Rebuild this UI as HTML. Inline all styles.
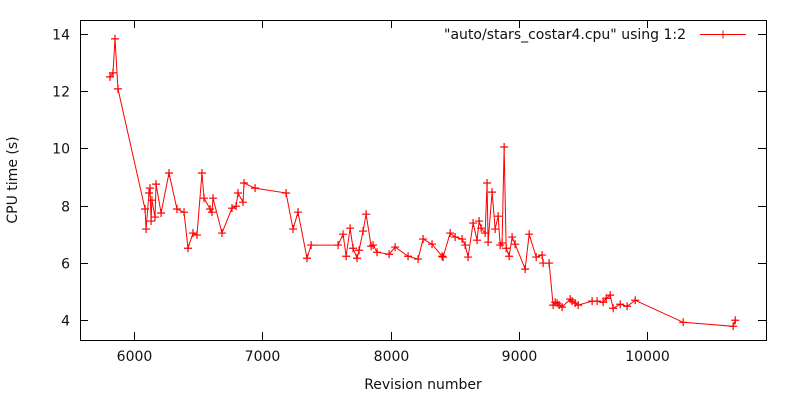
<!DOCTYPE html>
<html><head><meta charset="utf-8"><style>
body{margin:0;background:#fff}
svg{display:block;font-family:"DejaVu Sans","Liberation Sans",sans-serif;font-size:14px;fill:#111}
</style></head><body>
<svg id="chart" width="800" height="400">
<rect width="800" height="400" fill="#fff"/>
<g id="axes"></g>
<g id="series"></g>
<g>
<text x="686" y="39" text-anchor="end">"auto/stars_costar4.cpu" using 1:2</text>
<line x1="700" y1="34.5" x2="746" y2="34.5" stroke="#f00" stroke-width="1"/>
<path d="M719,34.5h8M723,30.5v8" stroke="#f00"/>
</g>
<text x="423" y="389" text-anchor="middle">Revision number</text>
<text transform="translate(17,180) rotate(-90)" text-anchor="middle">CPU time (s)</text>
</svg>
<script>
const revisions=[5813,5836,5852,5875,6086,6094,6117,6125,6133,6140,6164,6172,6211,6273,6335,6390,6421,6460,6491,6530,6546,6593,6608,6616,6686,6764,6796,6811,6850,6858,6944,7186,7240,7279,7349,7381,7591,7630,7654,7685,7708,7739,7755,7786,7810,7849,7864,7895,7989,8036,8137,8215,8254,8324,8402,8410,8465,8504,8558,8582,8605,8644,8675,8691,8707,8738,8753,8761,8792,8816,8839,8855,8870,8886,8902,8925,8948,8972,9050,9081,9136,9182,9190,9237,9268,9284,9299,9315,9338,9401,9416,9440,9463,9572,9611,9658,9682,9713,9736,9791,9845,9908,10282,10672,10688];
const cpuTimes=[12.50,12.64,13.83,12.08,7.88,7.18,8.44,8.61,7.46,8.19,7.60,8.75,7.74,9.14,7.88,7.77,6.51,7.04,6.97,9.14,8.26,7.88,7.77,8.26,7.04,7.91,7.98,8.44,8.12,8.79,8.61,8.44,7.18,7.77,6.16,6.62,6.62,7.00,6.23,7.21,6.51,6.16,6.44,7.11,7.70,6.58,6.62,6.37,6.30,6.55,6.23,6.13,6.83,6.65,6.23,6.20,7.04,6.90,6.83,6.62,6.20,7.39,6.79,7.46,7.21,7.04,8.79,6.72,8.47,7.18,7.63,6.62,6.69,10.05,6.51,6.23,6.90,6.65,5.78,7.00,6.20,6.27,5.99,5.99,4.52,4.62,4.59,4.52,4.45,4.73,4.66,4.59,4.52,4.66,4.66,4.62,4.76,4.87,4.41,4.55,4.48,4.69,3.92,3.78,3.99];
const xTicks=[6000,7000,8000,9000,10000];
const yTicks=[4,6,8,10,12,14];
const NS="http://www.w3.org/2000/svg";
const L=80,R=766,T=20,B=340;
function xs(v){return 134+(v-6000)*0.12825;}
function ys(v){return 320-(v-4)*28.6;}
function mk(tag,attrs,parent){const e=document.createElementNS(NS,tag);for(const k in attrs)e.setAttribute(k,attrs[k]);parent.appendChild(e);return e;}
const ax=document.getElementById('axes');
const frame=mk('rect',{x:L+0.5,y:T+0.5,width:R-L,height:B-T,fill:'none',stroke:'#000'},ax);


xTicks.forEach(t=>{const x=Math.round(xs(t))+0.5;
 const p=mk('path',{d:`M${x},${B}v-8M${x},${T}v8`,stroke:'#000'},ax);
 
 
 const tx=mk('text',{x:x,y:B+21,'text-anchor':'middle'},ax);tx.textContent=t;
 
 });
yTicks.forEach(t=>{const y=Math.round(ys(t))+0.5;
 const p=mk('path',{d:`M${L},${y}h8M${R},${y}h-8`,stroke:'#000'},ax);
 
 
 const tx=mk('text',{x:L-10,y:y+5,'text-anchor':'end'},ax);tx.textContent=t;
 
 });
const sg=document.getElementById('series');
const pts=revisions.map((r,i)=>[xs(r),ys(cpuTimes[i])]);
const line=mk('polyline',{points:pts.map(p=>p.join(',')).join(' '),fill:'none',stroke:'#f00','stroke-width':1},sg);


pts.forEach(p=>{const m=mk('path',{d:`M${p[0]-4},${p[1]}h8M${p[0]},${p[1]-4}v8`,stroke:'#f00','stroke-width':1.2},sg);
 
 });
</script>
</body></html>
